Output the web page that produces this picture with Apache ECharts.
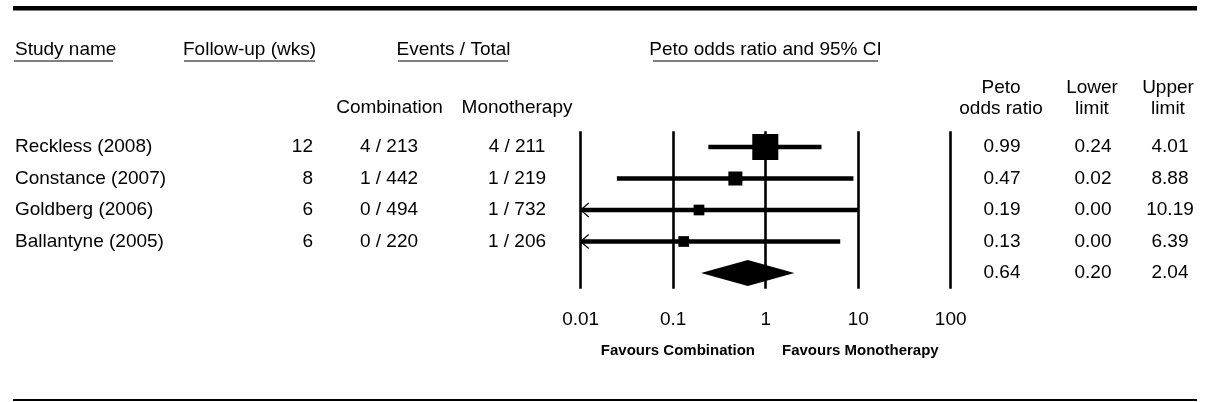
<!DOCTYPE html>
<html>
<head>
<meta charset="utf-8">
<script src="https://cdn.jsdelivr.net/npm/echarts@6/dist/echarts.min.js"></script>
<style>
  html, body { margin: 0; padding: 0; background: #fff; }
  #chart { width: 1206px; height: 402px; }
</style>
</head>
<body>
<div id="chart"></div>
<script>
// study rows
const studies = ['Reckless (2008)', 'Constance (2007)', 'Goldberg (2006)', 'Ballantyne (2005)']
const followUp = [12, 8, 6, 6]
const comboEvents = [4, 1, 0, 0]
const comboTotal = [213, 442, 494, 220]
const monoEvents = [4, 1, 1, 1]
const monoTotal = [211, 219, 732, 206]
const oddsRatio = [0.99, 0.47, 0.19, 0.13]
const lowerLimit = [0.24, 0.0246, 0, 0]
const upperLimit = [4.01, 8.88, 10.19, 6.39]
const relWeight = [61.5, 17.8, 10.4, 10.4]

// pooled estimate
const pooledOR = 0.64
const pooledLower = 0.20
const pooledUpper = 2.04

const axisTicks = [0.01, 0.1, 1, 10, 100]

const FONT = '19px "Liberation Sans", Arial, sans-serif'
const BOLD = 'bold 15px "Liberation Sans", Arial, sans-serif'

const chart = echarts.init(document.getElementById('chart'))

function txt(text, x, y, align) {
  return {
    type: 'text',
    style: { text: text, x: x, y: y, align: align || 'left', verticalAlign: 'middle', font: FONT, fill: '#000' }
  }
}

function renderStudy(params, api) {
  const i = api.value(0)
  const y = api.coord([1, i])[1]
  const xMin = api.coord([axisTicks[0], i])[0]
  const xOR = api.coord([oddsRatio[i], i])[0]
  const lo = lowerLimit[i] < axisTicks[0] ? axisTicks[0] : lowerLimit[i]
  const xLo = api.coord([lo, i])[0]
  const xHi = api.coord([upperLimit[i], i])[0]
  const s = Math.sqrt(relWeight[i]) * 3.32
  const children = [
    { type: 'line', shape: { x1: xLo, y1: y, x2: xHi, y2: y }, style: { stroke: '#000', lineWidth: 4.5 } },
    { type: 'rect', shape: { x: xOR - s / 2, y: y - s / 2, width: s, height: s }, style: { fill: '#000' } },
    txt(studies[i], 15, y),
    txt(String(followUp[i]), 313, y, 'right'),
    txt(comboEvents[i] + ' / ' + comboTotal[i], 389, y, 'center'),
    txt(monoEvents[i] + ' / ' + monoTotal[i], 517, y, 'center'),
    txt(oddsRatio[i].toFixed(2), 1002, y, 'center'),
    txt(lowerLimit[i].toFixed(2), 1093, y, 'center'),
    txt(upperLimit[i].toFixed(2), 1170, y, 'center')
  ]
  if (lowerLimit[i] < axisTicks[0]) {
    children.push({
      type: 'polyline',
      shape: { points: [[xMin + 8, y - 7], [xMin, y], [xMin + 8, y + 7]] },
      style: { stroke: '#000', lineWidth: 1.2, fill: null }
    })
  }
  return { type: 'group', children: children }
}

function renderPooled(params, api) {
  const row = api.value(0)
  const y = api.coord([1, row])[1]
  const xOR = api.coord([pooledOR, row])[0]
  const xLo = api.coord([pooledLower, row])[0]
  const xHi = api.coord([pooledUpper, row])[0]
  const h = 13
  return {
    type: 'group',
    children: [
      { type: 'polygon', shape: { points: [[xLo, y], [xOR, y - h], [xHi, y], [xOR, y + h]] }, style: { fill: '#000' } },
      txt(pooledOR.toFixed(2), 1002, y, 'center'),
      txt(pooledLower.toFixed(2), 1093, y, 'center'),
      txt(pooledUpper.toFixed(2), 1170, y, 'center')
    ]
  }
}

const headerStyle = { font: FONT, fill: '#000', verticalAlign: 'middle' }

const option = {
  animation: false,
  backgroundColor: '#fff',
  grid: { left: 580.7, width: 370, top: 131.25, height: 157.5 },
  xAxis: {
    type: 'log',
    logBase: 10,
    min: axisTicks[0],
    max: axisTicks[axisTicks.length - 1],
    axisLine: { show: false },
    axisTick: { show: false },
    splitLine: { show: true, lineStyle: { color: '#000', width: 2.6 } },
    axisLabel: {
      margin: 22,
      color: '#000',
      fontSize: 19,
      fontFamily: '"Liberation Sans", Arial, sans-serif',
      formatter: function (v) { return String(v) }
    }
  },
  yAxis: { type: 'value', min: -0.5, max: 4.5, inverse: true, show: false },
  series: [
    {
      type: 'custom',
      clip: false,
      renderItem: renderStudy,
      data: studies.map(function (n, i) { return [i] })
    },
    {
      type: 'custom',
      clip: false,
      renderItem: renderPooled,
      data: [[studies.length]]
    }
  ],
  graphic: [
    { type: 'line', shape: { x1: 13, y1: 8.3, x2: 1197, y2: 8.3 }, style: { stroke: '#000', lineWidth: 4.5 } },
    { type: 'line', shape: { x1: 13, y1: 400, x2: 1197, y2: 400 }, style: { stroke: '#000', lineWidth: 2 } },
    { type: 'text', style: Object.assign({ text: 'Study name', x: 15, y: 50, align: 'left' }, headerStyle) },
    { type: 'text', style: Object.assign({ text: 'Follow-up (wks)', x: 183, y: 50, align: 'left' }, headerStyle) },
    { type: 'text', style: Object.assign({ text: 'Events / Total', x: 453.5, y: 50, align: 'center' }, headerStyle) },
    { type: 'text', style: Object.assign({ text: 'Peto odds ratio and 95% CI', x: 765.5, y: 50, align: 'center' }, headerStyle) },
    { type: 'line', shape: { x1: 14, y1: 61, x2: 113, y2: 61 }, style: { stroke: '#808080', lineWidth: 2 } },
    { type: 'line', shape: { x1: 184, y1: 61, x2: 315, y2: 61 }, style: { stroke: '#808080', lineWidth: 2 } },
    { type: 'line', shape: { x1: 398, y1: 61, x2: 508, y2: 61 }, style: { stroke: '#808080', lineWidth: 2 } },
    { type: 'line', shape: { x1: 653, y1: 61, x2: 878, y2: 61 }, style: { stroke: '#808080', lineWidth: 2 } },
    { type: 'text', style: Object.assign({ text: 'Combination', x: 389.5, y: 108, align: 'center' }, headerStyle) },
    { type: 'text', style: Object.assign({ text: 'Monotherapy', x: 517, y: 108, align: 'center' }, headerStyle) },
    { type: 'text', style: Object.assign({ text: 'Peto', x: 1001, y: 88, align: 'center' }, headerStyle) },
    { type: 'text', style: Object.assign({ text: 'odds ratio', x: 1001, y: 109, align: 'center' }, headerStyle) },
    { type: 'text', style: Object.assign({ text: 'Lower', x: 1092, y: 88, align: 'center' }, headerStyle) },
    { type: 'text', style: Object.assign({ text: 'limit', x: 1092, y: 109, align: 'center' }, headerStyle) },
    { type: 'text', style: Object.assign({ text: 'Upper', x: 1168, y: 88, align: 'center' }, headerStyle) },
    { type: 'text', style: Object.assign({ text: 'limit', x: 1168, y: 109, align: 'center' }, headerStyle) },
    { type: 'text', style: { text: 'Favours Combination', x: 755, y: 351, align: 'right', verticalAlign: 'middle', font: BOLD, fill: '#000' } },
    { type: 'text', style: { text: 'Favours Monotherapy', x: 782, y: 351, align: 'left', verticalAlign: 'middle', font: BOLD, fill: '#000' } }
  ]
}

chart.setOption(option)
</script>
</body>
</html>
